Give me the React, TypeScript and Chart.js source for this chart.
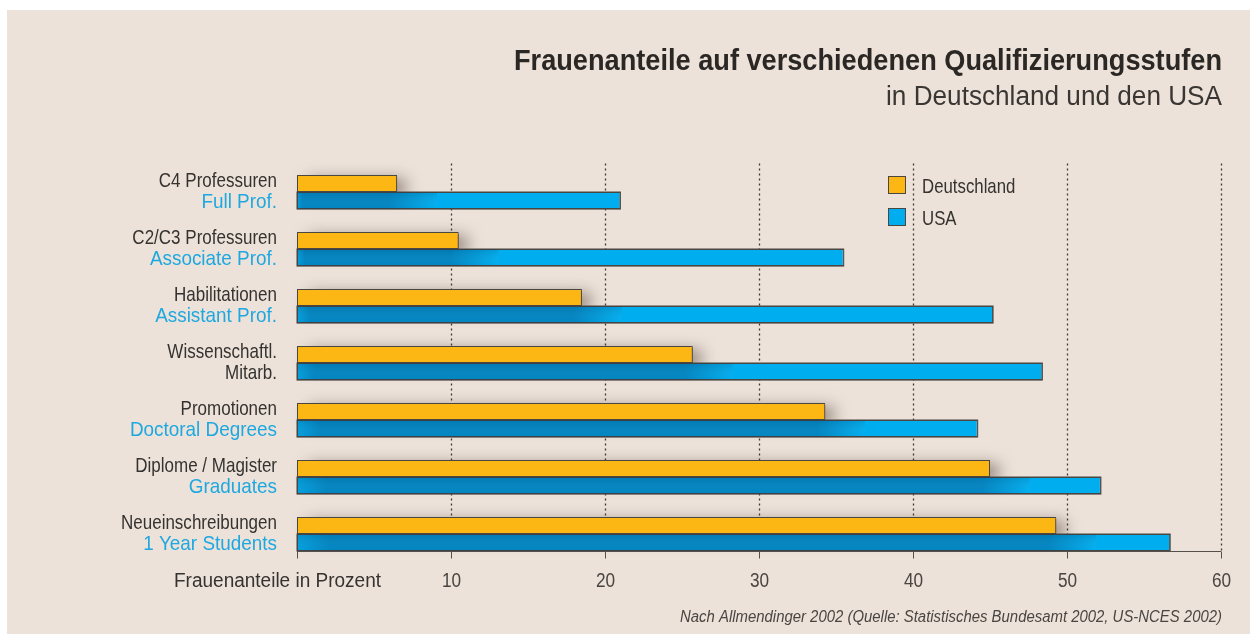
import React, { useEffect, useRef } from "react";
import { Chart, registerables } from "chart.js";

Chart.register(...registerables);

const germanLabels = [
  "C4 Professuren",
  "C2/C3 Professuren",
  "Habilitationen",
  "Wissenschaftl.",
  "Promotionen",
  "Diplome / Magister",
  "Neueinschreibungen",
];
const usLabels = [
  "Full Prof.",
  "Associate Prof.",
  "Assistant Prof.",
  "Mitarb.",
  "Doctoral Degrees",
  "Graduates",
  "1 Year Students",
];
const secondLineIsUS = [true, true, true, false, true, true, true];
const deutschland = [6.5, 10.5, 18.5, 25.7, 34.3, 45.0, 49.3];
const usa = [21.0, 35.5, 45.2, 48.4, 44.2, 52.2, 56.7];
const xTicks = [0, 10, 20, 30, 40, 50, 60];
const tickLabels = ["", "10", "20", "30", "40", "50", "60"];

const TITLE = "Frauenanteile auf verschiedenen Qualifizierungsstufen";
const SUBTITLE = "in Deutschland und den USA";
const AXIS_TITLE = "Frauenanteile in Prozent";
const SOURCE = "Nach Allmendinger 2002 (Quelle: Statistisches Bundesamt 2002, US-NCES 2002)";

const FAM = "'Liberation Sans', Arial, sans-serif";
const DARK = "#353230";
const BLUE_TEXT = "#1FA8E0";
const ORANGE = "#FDB714";
const BLUE = "#00AEEF";
const BORDER = "#4a4642";
const BG = "#ECE2D9";

function drawText(
  ctx: CanvasRenderingContext2D,
  text: string,
  x: number,
  y: number,
  align: "left" | "right" | "center",
  font: string,
  color: string,
  sx: number,
  fitWidth?: number
) {
  ctx.save();
  ctx.font = font;
  ctx.fillStyle = color;
  ctx.textBaseline = "alphabetic";
  ctx.textAlign = "left";
  const raw = ctx.measureText(text).width;
  const s = fitWidth ? fitWidth / raw : sx;
  const w = raw * s;
  const left = align === "right" ? x - w : align === "center" ? x - w / 2 : x;
  ctx.translate(left, y);
  ctx.scale(s, 1);
  ctx.fillText(text, 0, 0);
  ctx.restore();
}

const decorPlugin = {
  id: "decor",
  beforeDraw(chart: any) {
    const ctx = chart.ctx as CanvasRenderingContext2D;
    ctx.save();
    ctx.fillStyle = "#ffffff";
    ctx.fillRect(0, 0, chart.width, chart.height);
    ctx.fillStyle = BG;
    ctx.fillRect(7, 10, chart.width - 7, chart.height - 10);
    ctx.restore();
  },
  beforeDatasetsDraw(chart: any) {
    const ctx = chart.ctx as CanvasRenderingContext2D;
    const xs = chart.scales.x;
    const area = chart.chartArea;
    const metaDE = chart.getDatasetMeta(0);
    const metaUS = chart.getDatasetMeta(1);
    const last = metaUS.data[metaUS.data.length - 1];
    const axisY = last.y + last.height / 2;
    ctx.save();
    ctx.strokeStyle = "#3c3836";
    ctx.lineWidth = 1.3;
    ctx.setLineDash([2, 3]);
    xTicks.forEach((v) => {
      if (v === 0) return;
      const px = Math.round(xs.getPixelForValue(v)) + 0.5;
      ctx.beginPath();
      ctx.moveTo(px, area.top);
      ctx.lineTo(px, axisY);
      ctx.stroke();
    });
    ctx.restore();
    // soft drop shadow behind the orange bars
    metaDE.data.forEach((de: any) => {
      const top = de.y - de.height / 2;
      ctx.save();
      ctx.shadowColor = "rgba(60,40,30,0.6)";
      ctx.shadowBlur = 16;
      ctx.shadowOffsetX = 8;
      ctx.shadowOffsetY = 3;
      ctx.fillStyle = "rgba(120,100,90,1)";
      ctx.fillRect(de.base + 4, top + 2, de.x - de.base - 4, de.height - 2);
      ctx.restore();
    });
  },
  afterDatasetsDraw(chart: any) {
    const ctx = chart.ctx as CanvasRenderingContext2D;
    const xs = chart.scales.x;
    const metaDE = chart.getDatasetMeta(0);
    const metaUS = chart.getDatasetMeta(1);
    metaDE.data.forEach((de: any, i: number) => {
      const us = metaUS.data[i];
      const h = us.height;
      const top = us.y - h / 2;
      const left = us.base;
      const right = us.x;
      const shadowEnd = Math.min(de.x + 40, right);
      ctx.save();
      ctx.beginPath();
      ctx.rect(left, top, right - left, h);
      ctx.clip();
      const g = ctx.createLinearGradient(left, 0, shadowEnd, 0);
      const mid = Math.max(0, Math.min(1, (de.x - 8 - left) / (shadowEnd - left)));
      g.addColorStop(0, "rgba(0,45,95,0.12)");
      g.addColorStop(0.04, "rgba(0,45,95,0.32)");
      g.addColorStop(mid, "rgba(0,45,95,0.32)");
      g.addColorStop(1, "rgba(0,45,95,0)");
      ctx.fillStyle = g;
      ctx.fillRect(left, top, shadowEnd - left, h);
      const gv = ctx.createLinearGradient(0, top, 0, top + h);
      gv.addColorStop(0, "rgba(0,30,70,0.12)");
      gv.addColorStop(1, "rgba(255,255,255,0.0)");
      ctx.fillStyle = gv;
      ctx.fillRect(left, top, shadowEnd - left, h);
      ctx.restore();
      ctx.save();
      ctx.strokeStyle = BORDER;
      ctx.lineWidth = 1;
      ctx.strokeRect(left, top, right - left, h);
      ctx.restore();
    });

    // x axis line and ticks
    const last = metaUS.data[metaUS.data.length - 1];
    const axisY = Math.round(last.y + last.height / 2) + 0.5;
    const x0 = xs.getPixelForValue(0);
    const x1 = xs.getPixelForValue(60);
    ctx.save();
    ctx.strokeStyle = "#55504c";
    ctx.lineWidth = 1;
    ctx.beginPath();
    ctx.moveTo(x0, axisY);
    ctx.lineTo(x1, axisY);
    ctx.stroke();
    xTicks.forEach((v, i) => {
      const px = Math.round(xs.getPixelForValue(v)) + 0.5;
      ctx.beginPath();
      ctx.moveTo(px, axisY);
      ctx.lineTo(px, axisY + 7);
      ctx.stroke();
      if (tickLabels[i]) {
        drawText(ctx, tickLabels[i], px, 587, "center", `20px ${FAM}`, "#4a4542", 0.86);
      }
    });
    ctx.restore();
    drawText(ctx, AXIS_TITLE, 174, 587, "left", `20px ${FAM}`, DARK, 1, 207);

    // category labels
    const ys = chart.scales.y;
    germanLabels.forEach((lab, i) => {
      const cy = ys.getPixelForValue(i);
      drawText(ctx, lab, 277, cy - 5, "right", `21px ${FAM}`, DARK, 0.81);
      const second = usLabels[i];
      if (secondLineIsUS[i]) {
        drawText(ctx, second, 277, cy + 16, "right", `21px ${FAM}`, BLUE_TEXT, 0.9);
      } else {
        drawText(ctx, second, 277, cy + 16, "right", `21px ${FAM}`, DARK, 0.81);
      }
    });

    // legend
    const ds = chart.data.datasets;
    const legY = [176, 208];
    ds.forEach((d: any, i: number) => {
      ctx.save();
      ctx.fillStyle = d.backgroundColor;
      ctx.fillRect(888.5, legY[i] + 0.5, 17, 17);
      ctx.strokeStyle = BORDER;
      ctx.lineWidth = 1;
      ctx.strokeRect(888.5, legY[i] + 0.5, 17, 17);
      ctx.restore();
      drawText(ctx, d.label, 922, legY[i] + 17, "left", `21px ${FAM}`, DARK, 0.8);
    });

    // titles
    drawText(ctx, TITLE, 1222, 70, "right", `bold 30px ${FAM}`, "#2a2725", 1, 708);
    drawText(ctx, SUBTITLE, 1222, 105, "right", `27px ${FAM}`, "#3a3633", 1, 336);
    drawText(ctx, SOURCE, 1222, 622, "right", `italic 16px ${FAM}`, "#4a4542", 1, 542);
  },
};

export default function App() {
  const ref = useRef<HTMLCanvasElement | null>(null);
  useEffect(() => {
    if (!ref.current) return;
    const chart = new Chart(ref.current, {
      type: "bar",
      data: {
        labels: germanLabels.map((g, i) => [g, usLabels[i]]),
        datasets: [
          {
            label: "Deutschland",
            data: deutschland,
            backgroundColor: ORANGE,
            borderColor: BORDER,
            borderWidth: 1,
            borderSkipped: false,
          },
          {
            label: "USA",
            data: usa,
            backgroundColor: BLUE,
            borderColor: BORDER,
            borderWidth: 1,
            borderSkipped: false,
          },
        ],
      },
      options: {
        indexAxis: "y",
        responsive: false,
        animation: false,
        devicePixelRatio: 1,
        layout: { padding: { left: 297, right: 29, top: 163.5, bottom: 71.5 } },
        datasets: { bar: { categoryPercentage: 0.6, barPercentage: 1.0 } },
        scales: {
          x: { display: false, min: 0, max: 60 },
          y: { display: false, offset: true },
        },
        plugins: { legend: { display: false }, tooltip: { enabled: false }, title: { display: false } },
      },
      plugins: [decorPlugin],
    });
    return () => chart.destroy();
  }, []);
  return (
    <div style={{ position: "fixed", left: 0, top: 0, width: 1250, height: 634 }}>
      <canvas ref={ref} width={1250} height={634} style={{ width: 1250, height: 634, display: "block" }} />
    </div>
  );
}
